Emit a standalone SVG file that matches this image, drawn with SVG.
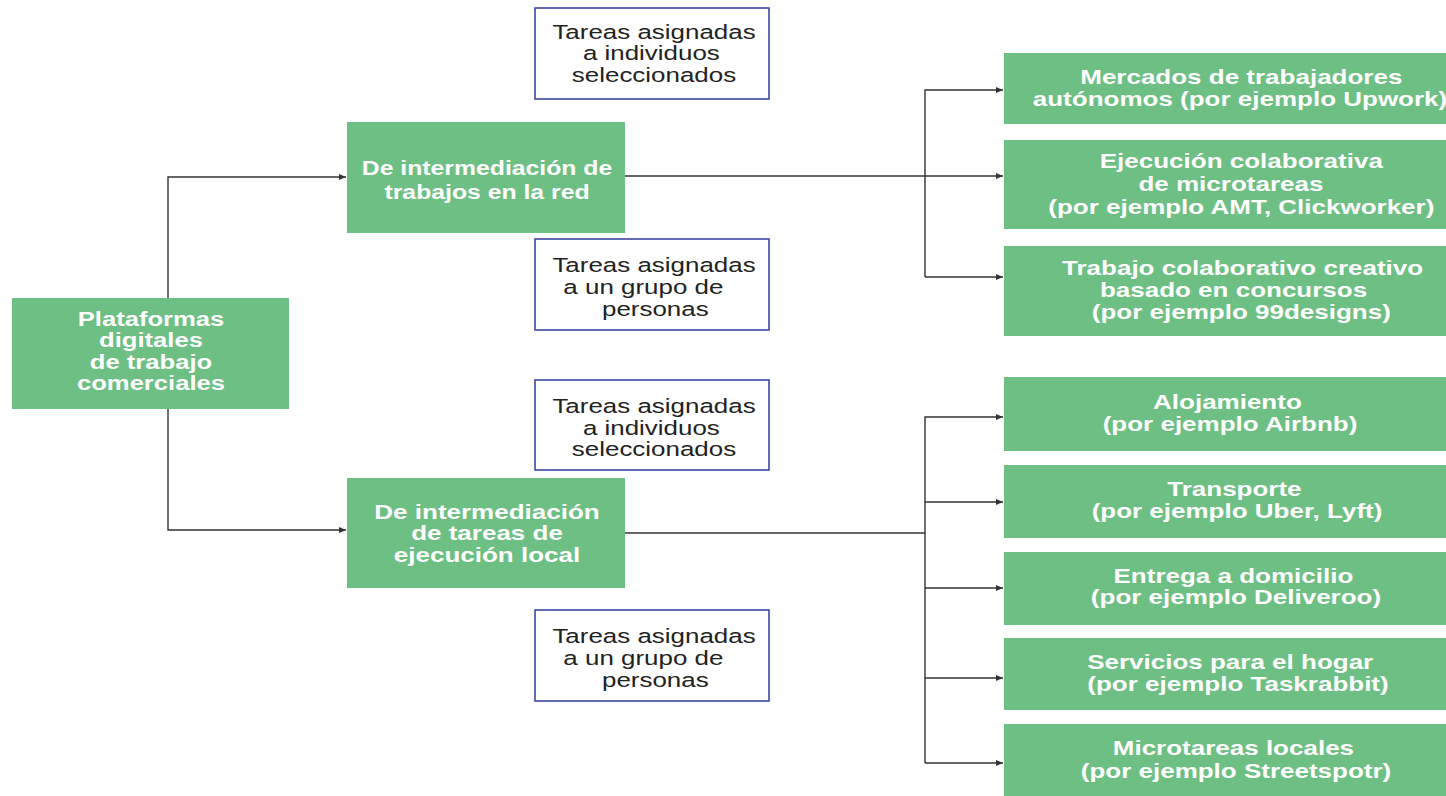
<svg xmlns="http://www.w3.org/2000/svg" width="1446" height="796" viewBox="0 0 1446 796">
<style>
.g{fill:#6dbf83}
.o{fill:#fff;stroke:#3d46a6;stroke-width:1.6}
.w{font-family:"Liberation Sans",Arial,sans-serif;font-weight:bold;font-size:20px;fill:#fff;text-anchor:middle}
.w2{font-family:"Liberation Sans",Arial,sans-serif;font-weight:bold;font-size:21px;fill:#fff;text-anchor:middle}
.k{font-family:"Liberation Sans",Arial,sans-serif;font-size:19.5px;fill:#222;text-anchor:middle}
.c{fill:none;stroke:#333;stroke-width:1.4}
</style>
<defs>
<marker id="ar" markerWidth="8" markerHeight="8" refX="7" refY="4" orient="auto" markerUnits="userSpaceOnUse">
<path d="M0,1 L7,4 L0,7 Z" fill="#333"/>
</marker>
</defs>
<rect width="1446" height="796" fill="#fff"/>

<g id="connectors">
<path class="c" d="M168,298 V177 H346" marker-end="url(#ar)"/>
<path class="c" d="M168,409 V530 H346" marker-end="url(#ar)"/>
<path class="c" d="M625,176 H1003" marker-end="url(#ar)"/>
<path class="c" d="M925,277 V90 H1003" marker-end="url(#ar)"/>
<path class="c" d="M925,277 H1003" marker-end="url(#ar)"/>
<path class="c" d="M625,533 H925"/>
<path class="c" d="M925,763 V417 H1003" marker-end="url(#ar)"/>
<path class="c" d="M925,502 H1003" marker-end="url(#ar)"/>
<path class="c" d="M925,588 H1003" marker-end="url(#ar)"/>
<path class="c" d="M925,678 H1003" marker-end="url(#ar)"/>
<path class="c" d="M925,763 H1003" marker-end="url(#ar)"/>
</g>

<g id="root">
<rect class="g" x="12" y="298" width="277" height="111"/>
<text class="w" transform="translate(151,0) scale(1.28,1)"><tspan x="0" y="326">Plataformas</tspan><tspan x="0" y="347.5">digitales</tspan><tspan x="0" y="369">de trabajo</tspan><tspan x="0" y="390">comerciales</tspan></text>
</g>

<g id="online">
<rect class="g" x="347" y="122" width="278" height="111"/>
<text class="w2" transform="translate(487,0) scale(1.18,1)"><tspan x="0" y="175">De intermediación de</tspan><tspan x="0" y="199">trabajos en la red</tspan></text>
</g>

<g id="local">
<rect class="g" x="347" y="478" width="278" height="110"/>
<text class="w" transform="translate(487,0) scale(1.3,1)"><tspan x="0" y="519">De intermediación</tspan><tspan x="0" y="540">de tareas de</tspan><tspan x="0" y="562">ejecución local</tspan></text>
</g>

<g id="t1">
<rect class="o" x="535" y="8" width="234" height="91"/>
<text class="k" transform="translate(654,0) scale(1.33,1)"><tspan x="0" y="39">Tareas asignadas</tspan><tspan x="-2" y="60">a individuos</tspan><tspan x="0" y="82">seleccionados</tspan></text>
</g>
<g id="t2">
<rect class="o" x="535" y="239" width="234" height="91"/>
<text class="k" transform="translate(654,0) scale(1.33,1)"><tspan x="0" y="272">Tareas asignadas</tspan><tspan x="-8" y="294">a un grupo de</tspan><tspan x="1" y="316">personas</tspan></text>
</g>
<g id="t3">
<rect class="o" x="535" y="380" width="234" height="90"/>
<text class="k" transform="translate(654,0) scale(1.33,1)"><tspan x="0" y="413">Tareas asignadas</tspan><tspan x="-2" y="435">a individuos</tspan><tspan x="0" y="456">seleccionados</tspan></text>
</g>
<g id="t4">
<rect class="o" x="535" y="610" width="234" height="91"/>
<text class="k" transform="translate(654,0) scale(1.33,1)"><tspan x="0" y="643">Tareas asignadas</tspan><tspan x="-8" y="665">a un grupo de</tspan><tspan x="1" y="687">personas</tspan></text>
</g>

<g id="r1">
<rect class="g" x="1004" y="53" width="472" height="71"/>
<text class="w" transform="translate(1240,0) scale(1.3,1)"><tspan x="1" y="84">Mercados de trabajadores</tspan><tspan x="0" y="106">autónomos (por ejemplo Upwork)</tspan></text>
</g>
<g id="r2">
<rect class="g" x="1004" y="140" width="472" height="89"/>
<text class="w" transform="translate(1240,0) scale(1.3,1)"><tspan x="1" y="168">Ejecución colaborativa</tspan><tspan x="-7" y="191">de microtareas</tspan><tspan x="1" y="214">(por ejemplo AMT, Clickworker)</tspan></text>
</g>
<g id="r3">
<rect class="g" x="1004" y="246" width="472" height="90"/>
<text class="w" transform="translate(1240,0) scale(1.3,1)"><tspan x="2" y="275">Trabajo colaborativo creativo</tspan><tspan x="-5" y="297">basado en concursos</tspan><tspan x="1" y="319">(por ejemplo 99designs)</tspan></text>
</g>
<g id="r4">
<rect class="g" x="1004" y="377" width="472" height="74"/>
<text class="w" transform="translate(1230,0) scale(1.3,1)"><tspan x="-2" y="409">Alojamiento</tspan><tspan x="0" y="431">(por ejemplo Airbnb)</tspan></text>
</g>
<g id="r5">
<rect class="g" x="1004" y="465" width="472" height="73"/>
<text class="w" transform="translate(1237,0) scale(1.3,1)"><tspan x="-2" y="496">Transporte</tspan><tspan x="0" y="518">(por ejemplo Uber, Lyft)</tspan></text>
</g>
<g id="r6">
<rect class="g" x="1004" y="552" width="472" height="73"/>
<text class="w" transform="translate(1236,0) scale(1.3,1)"><tspan x="-2" y="583">Entrega a domicilio</tspan><tspan x="0" y="604">(por ejemplo Deliveroo)</tspan></text>
</g>
<g id="r7">
<rect class="g" x="1004" y="638" width="472" height="72"/>
<text class="w" transform="translate(1238,0) scale(1.3,1)"><tspan x="-6" y="669">Servicios para el hogar</tspan><tspan x="0" y="691">(por ejemplo Taskrabbit)</tspan></text>
</g>
<g id="r8">
<rect class="g" x="1004" y="724" width="472" height="80"/>
<text class="w" transform="translate(1236,0) scale(1.3,1)"><tspan x="-2" y="755">Microtareas locales</tspan><tspan x="0" y="778">(por ejemplo Streetspotr)</tspan></text>
</g>
</svg>
